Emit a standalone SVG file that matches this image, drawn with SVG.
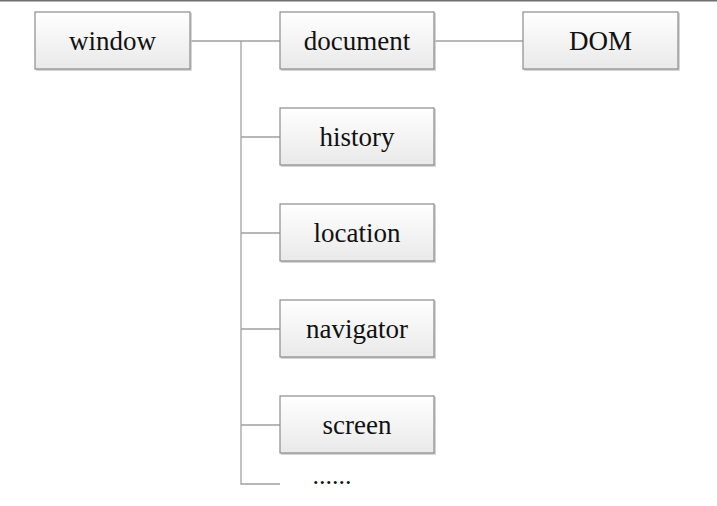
<svg xmlns="http://www.w3.org/2000/svg" width="717" height="506" viewBox="0 0 717 506">
<defs>
<linearGradient id="g" x1="0" y1="0" x2="0" y2="1">
<stop offset="0" stop-color="#ffffff"/>
<stop offset="1" stop-color="#e9e9e9"/>
</linearGradient>
<style>
.box{fill:url(#g);stroke:#8c8c8c;stroke-width:1.2}
.sh{fill:none;stroke:#c8c8c8;stroke-width:1.5}
.t{font-family:"Liberation Serif","Times New Roman",serif;font-size:27px;fill:#111;text-anchor:middle}
.c{fill:none;stroke:#a0a0a0;stroke-width:1.3}
</style>
</defs>
<rect width="717" height="506" fill="#fff"/>
<line x1="0" y1="0.8" x2="717" y2="0.8" stroke="#707070" stroke-width="1.6"/>
<g id="connectors">
<path class="c" d="M190 41H280M241 41V484H280"/>
<path class="c" d="M434 41H523"/>
<path class="c" d="M241 137H280M241 233H280M241 329H280M241 425H280"/>
</g>
<g id="window"><path class="sh" d="M191 13V70H36"/><rect class="box" x="35" y="12" width="155" height="57"/><text class="t" x="112.5" y="49.5">window</text></g>
<g id="document"><path class="sh" d="M435 13V70H281"/><rect class="box" x="280" y="12" width="154" height="57"/><text class="t" x="357" y="49.5">document</text></g>
<g id="dom"><path class="sh" d="M679 13V70H524"/><rect class="box" x="523" y="12" width="155" height="57"/><text class="t" x="600.5" y="49.5">DOM</text></g>
<g id="history"><path class="sh" d="M435 109V166H281"/><rect class="box" x="280" y="108" width="154" height="57"/><text class="t" x="357" y="145.5">history</text></g>
<g id="location"><path class="sh" d="M435 205V262H281"/><rect class="box" x="280" y="204" width="154" height="57"/><text class="t" x="357" y="241.5">location</text></g>
<g id="navigator"><path class="sh" d="M435 301V358H281"/><rect class="box" x="280" y="300" width="154" height="57"/><text class="t" x="357" y="337.5">navigator</text></g>
<g id="screen"><path class="sh" d="M435 397V454H281"/><rect class="box" x="280" y="396" width="154" height="57"/><text class="t" x="357" y="433.5">screen</text></g>
<g id="more"><text class="t" x="332" y="484" style="font-size:26px">......</text></g>
</svg>
